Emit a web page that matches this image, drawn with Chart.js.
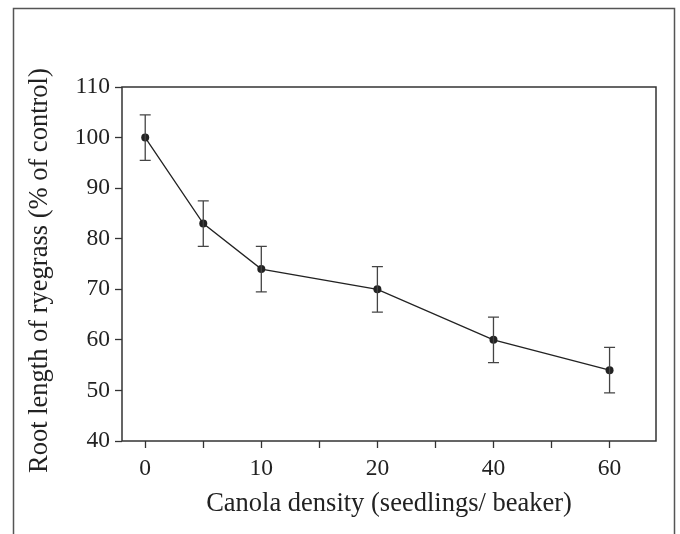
<!DOCTYPE html>
<html>
<head>
<meta charset="utf-8">
<script src="https://cdn.jsdelivr.net/npm/chart.js@4"></script>
<style>
  html, body { margin: 0; padding: 0; background: #fff; }
  #wrap { width: 680px; height: 534px; }
</style>
</head>
<body>
<div id="wrap"><canvas id="rootChart" width="680" height="534"></canvas></div>
<script>
// densidade de canola (plântulas por copo)
const densities = [0, 5, 10, 20, 40, 60];
// comprimento da raiz (% do controlo)
const rootLength = [100, 83, 74, 70, 60, 54];
const rootError = [4.5, 4.5, 4.5, 4.5, 4.5, 4.5];
// etiquetas do eixo x (espaçadas igualmente)
const xTickLabels = [0, 10, 20, 40, 60];
const yTicks = [40, 50, 60, 70, 80, 90, 100, 110];

// posição no eixo: interpolação entre as etiquetas do eixo x
function axisPos(v) {
  for (let i = 0; i < xTickLabels.length - 1; i++) {
    const a = xTickLabels[i], b = xTickLabels[i + 1];
    if (v <= b) return i + (v - a) / (b - a);
  }
  return xTickLabels.length - 1;
}

const points = densities.map((d, i) => ({ x: axisPos(d), y: rootLength[i] }));

const serif = "'Liberation Serif', 'DejaVu Serif', serif";
const ink = "#222";

// moldura exterior + caixa do gráfico + barras de erro
const extras = {
  id: "extras",
  beforeDraw(chart) {
    const ctx = chart.ctx;
    ctx.save();
    ctx.strokeStyle = "#555";
    ctx.lineWidth = 1.5;
    ctx.beginPath();
    ctx.moveTo(13.5, 534);
    ctx.lineTo(13.5, 8.5);
    ctx.lineTo(674.5, 8.5);
    ctx.lineTo(674.5, 534);
    ctx.stroke();
    ctx.restore();
  },
  afterDatasetsDraw(chart) {
    const ctx = chart.ctx;
    const xs = chart.scales.x, ys = chart.scales.y;
    ctx.save();
    ctx.strokeStyle = "#444";
    ctx.lineWidth = 1.3;
    points.forEach((p, i) => {
      const px = xs.getPixelForValue(p.x);
      const top = ys.getPixelForValue(p.y + rootError[i]);
      const bot = ys.getPixelForValue(p.y - rootError[i]);
      ctx.beginPath();
      ctx.moveTo(px, top); ctx.lineTo(px, bot);
      ctx.moveTo(px - 5.5, top); ctx.lineTo(px + 5.5, top);
      ctx.moveTo(px - 5.5, bot); ctx.lineTo(px + 5.5, bot);
      ctx.stroke();
    });
    const a = chart.chartArea;
    ctx.strokeStyle = "#333";
    ctx.lineWidth = 1.5;
    ctx.strokeRect(a.left, a.top, a.right - a.left, a.bottom - a.top);
    ctx.restore();
  }
};

new Chart(document.getElementById("rootChart"), {
  type: "scatter",
  data: {
    datasets: [{
      data: points,
      showLine: true,
      borderColor: ink,
      borderWidth: 1.3,
      backgroundColor: ink,
      pointRadius: 4,
      pointBorderWidth: 0,
      tension: 0
    }]
  },
  options: {
    responsive: false,
    animation: false,
    layout: { padding: { top: 87, right: 24, left: 0, bottom: 0 } },
    plugins: { legend: { display: false }, tooltip: { enabled: false } },
    scales: {
      x: {
        type: "linear",
        min: -0.2,
        max: 4.4,
        afterFit(scale) { scale.height = 93; },
        afterBuildTicks(scale) {
          const t = [];
          for (let i = 0; i < xTickLabels.length; i++) {
            t.push({ value: i });
            if (i < xTickLabels.length - 1) t.push({ value: i + 0.5 });
          }
          scale.ticks = t;
        },
        ticks: {
          autoSkip: false,
          maxRotation: 0,
          padding: 7,
          color: ink,
          font: { family: serif, size: 23.5 },
          callback: v => Number.isInteger(v) ? String(xTickLabels[v]) : ""
        },
        grid: { drawOnChartArea: false, drawTicks: true, tickLength: 7, tickColor: "#333", tickWidth: 1.3 },
        border: { display: false },
        title: {
          display: true,
          text: "Canola density (seedlings/ beaker)",
          color: ink,
          font: { family: serif, size: 26.5 },
          padding: { top: 0, bottom: 14 }
        }
      },
      y: {
        min: 40,
        max: 110,
        afterFit(scale) { scale.width = 122; },
        afterBuildTicks(scale) { scale.ticks = yTicks.map(v => ({ value: v })); },
        ticks: {
          padding: 5,
          color: ink,
          font: { family: serif, size: 23.5 }
        },
        grid: { drawOnChartArea: false, drawTicks: true, tickLength: 7, tickColor: "#333", tickWidth: 1.3 },
        border: { display: false },
        title: {
          display: true,
          text: "Root length of ryegrass (% of control)  ",
          color: ink,
          font: { family: serif, size: 26.5 },
          padding: { top: 24, bottom: 0 }
        }
      }
    }
  },
  plugins: [extras]
});
</script>
</body>
</html>
